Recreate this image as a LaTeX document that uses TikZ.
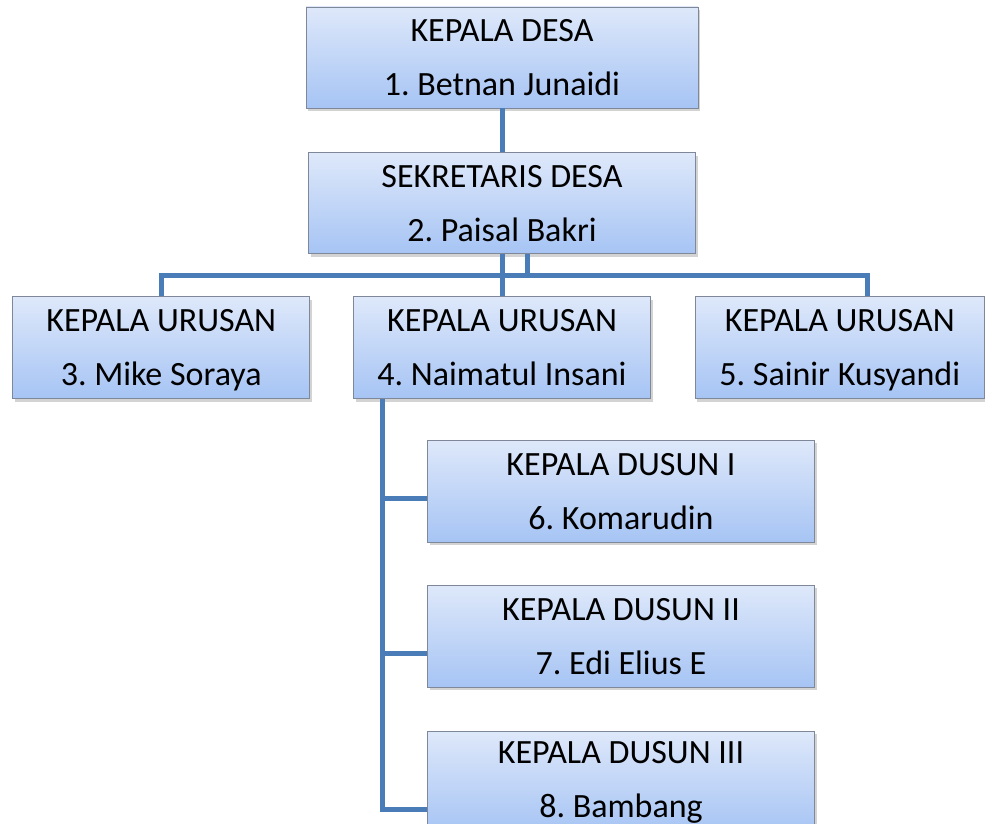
\documentclass[tikz,border=0pt]{standalone}
\usepackage{fontspec}
\setmainfont{Carlito}
\usepackage{tikz}
\usetikzlibrary{positioning,shadows}
\frenchspacing

\definecolor{boxtop}{HTML}{DEE8FA}
\definecolor{boxbot}{HTML}{A6C4F4}
\definecolor{boxedge}{HTML}{7F8898}
\definecolor{linkblue}{HTML}{4A7CB8}

\begin{document}
\begin{tikzpicture}[x=1pt,y=-1pt,node distance=42pt,
  orgbox/.style={draw=boxedge,line width=0.8pt,top color=boxtop,bottom color=boxbot,
    align=center,inner sep=0pt,font=\fontsize{34}{54}\selectfont,
    drop shadow={shadow xshift=2pt,shadow yshift=-3pt,opacity=0.35}},
  link/.style={draw=linkblue,line width=5pt}]
\useasboundingbox (0,0) rectangle (985,824);
\node[orgbox,minimum width=392pt,minimum height=101pt] (kades) at (502,57.5) {KEPALA DESA\\1. Betnan Junaidi};
\node[orgbox,minimum width=387pt,minimum height=101pt,below=44pt of kades] (sekdes) {SEKRETARIS DESA\\2. Paisal Bakri};
\node[orgbox,minimum width=297pt,minimum height=102pt,below=of sekdes] (kaur2) {KEPALA URUSAN\\4. Naimatul Insani};
\node[orgbox,minimum width=297pt,minimum height=102pt,left=43pt of kaur2] (kaur1) {KEPALA URUSAN\\\smash{3. Mike Soraya}};
\node[orgbox,minimum width=289pt,minimum height=102pt,right=44pt of kaur2] (kaur3) {KEPALA URUSAN\\\smash{5. Sainir Kusyandi}};
\node[orgbox,minimum width=387pt,minimum height=102pt,below right=41pt and 74pt of kaur2.south west] (kadus1) {KEPALA DUSUN I\\6. Komarudin};
\node[orgbox,minimum width=387pt,minimum height=102pt,below=of kadus1] (kadus2) {KEPALA DUSUN II\\7. Edi Elius E};
\node[orgbox,minimum width=387pt,minimum height=102pt,below=43pt of kadus2] (kadus3) {KEPALA DUSUN III\\8. Bambang};
\coordinate (bus) at (527,275);
\draw[link] (kades) -- (sekdes);
\draw[link] (sekdes) -- (kaur2);
\draw[link] ([xshift=25pt]sekdes.south) -- (bus);
\draw[link] (kaur1.north) |- (bus) -| ([xshift=28pt]kaur3.north);
% dusun branch
\draw[link] ([xshift=29pt]kaur2.south west) |- ([yshift=-79pt]kadus3.north west);
\draw[link] ([yshift=-58pt]kadus1.north west) -- ++(-45,0);
\draw[link] ([yshift=-69pt]kadus2.north west) -- ++(-45,0);
\end{tikzpicture}
\end{document}
